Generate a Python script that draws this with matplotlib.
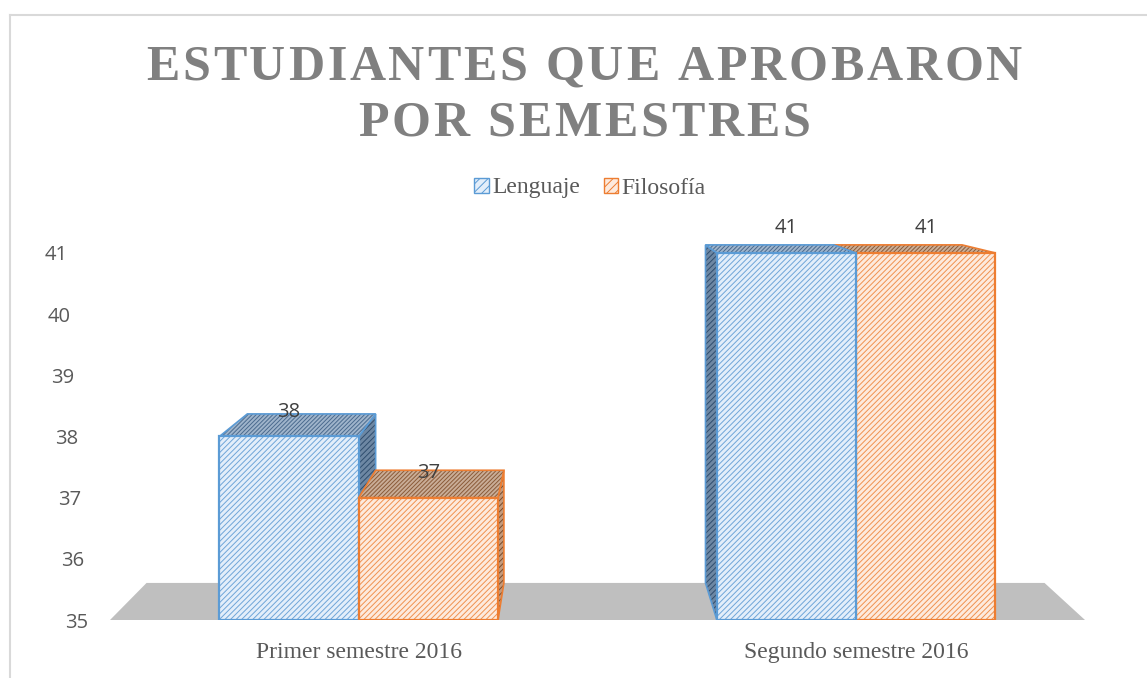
import matplotlib
matplotlib.use("Agg")
import matplotlib.pyplot as plt
from matplotlib.patches import Polygon, Rectangle
from matplotlib.lines import Line2D
from matplotlib.transforms import ScaledTranslation
from matplotlib.font_manager import FontProperties, findfont
from matplotlib.ft2font import FT2Font

# datos
categories = ["Primer semestre 2016", "Segundo semestre 2016"]
series_names = ["Lenguaje", "Filosofía"]
lenguaje = [38, 41]
filosofia = [37, 41]
y_ticks = [35, 36, 37, 38, 39, 40, 41]
title_lines = ["ESTUDIANTES QUE APROBARON", "POR SEMESTRES"]

plt.rcParams['hatch.linewidth'] = 0.7

W, H, DPI = 1147, 678, 100
fig = plt.figure(figsize=(W / DPI, H / DPI), dpi=DPI)
ax = fig.add_axes([110 / W, 1 - 620 / H, 975 / W, (620 - 130.6) / H])
ax.set_xlim(-0.5, 1.46)
ax.set_ylim(35, 43)
for s in ax.spines.values():
    s.set_visible(False)

# perspectiva simple: punto de fuga y escala de la cara trasera
vp = (0.43, 42.67)
sc = 0.921


def back(x, y):
    return (vp[0] + sc * (x - vp[0]), vp[1] + sc * (y - vp[1]))


# suelo gris
x0, x1 = ax.get_xlim()
floor = [(x0, 35), (x1, 35), back(x1, 35), back(x0, 35)]
ax.add_patch(Polygon(floor, closed=True, facecolor="#bfbfbf", edgecolor="none", zorder=1))

styles = {
    "Lenguaje": {"face": "#e3eefa", "hatch": "#6fa5d8", "edge": "#5b9bd5",
                 "top": "#9fb4cb", "tophatch": "#4a6a8e", "side": "#6d87a3", "sidehatch": "#2f4d6e"},
    "Filosofía": {"face": "#fdeadd", "hatch": "#f0914f", "edge": "#ed7d31",
                  "top": "#c9ad97", "tophatch": "#8a5a38", "side": "#c49a7c", "sidehatch": "#7a4a28"},
}

width = 0.28
bars = []
for i in range(len(categories)):
    bars.append((i - width, width, lenguaje[i], "Lenguaje"))
    bars.append((i, width, filosofia[i], "Filosofía"))

# pintar de atrás hacia delante (más lejos del punto de fuga primero)
bars.sort(key=lambda b: -abs(b[0] + b[1] / 2 - vp[0]))

z = 2
for left, w, h, name in bars:
    st = styles[name]
    right = left + w
    # cara lateral visible (la que mira al punto de fuga)
    sx = right if right < vp[0] else left
    side = [(sx, 35), (sx, h), back(sx, h), back(sx, 35)]
    ax.add_patch(Polygon(side, closed=True, facecolor=st["side"], edgecolor=st["sidehatch"],
                         hatch="//////", linewidth=0, zorder=z))
    ax.add_patch(Polygon(side, closed=True, fill=False, edgecolor=st["edge"], linewidth=1.2, zorder=z))
    # cara superior
    top = [(left, h), (right, h), back(right, h), back(left, h)]
    ax.add_patch(Polygon(top, closed=True, facecolor=st["top"], edgecolor=st["tophatch"],
                         hatch="////////", linewidth=0, zorder=z))
    ax.add_patch(Polygon(top, closed=True, fill=False, edgecolor=st["edge"], linewidth=1.2, zorder=z))
    # cara frontal
    ax.add_patch(Rectangle((left, 35), w, h - 35, facecolor=st["face"], edgecolor=st["hatch"],
                           hatch="//////", linewidth=0, zorder=z + 1))
    ax.add_patch(Rectangle((left, 35), w, h - 35, fill=False, edgecolor=st["edge"], linewidth=1.6, zorder=z + 1))
    # etiqueta de valor
    ax.text(left + w / 2, h + 0.4, str(h), ha="center", va="center",
            fontsize=14.5, color="#404040", family="Open Sans", zorder=10)
    z += 2

# ejes
ax.set_yticks(y_ticks)
ax.set_yticklabels([str(t) for t in y_ticks], family="Open Sans", fontsize=14.5, color="#595959")
ax.tick_params(axis="y", length=0, pad=16)
for lab, t in zip(ax.get_yticklabels(), y_ticks):
    dx = -(t - 35) / 6 * 20 / 100
    lab.set_transform(lab.get_transform() + ScaledTranslation(dx, 0, fig.dpi_scale_trans))

ax.set_xticks(range(len(categories)))
ax.set_xticklabels(categories, family="Liberation Serif", fontsize=17, color="#595959")
ax.tick_params(axis="x", length=0, pad=16)

# título con espaciado entre letras (cada letra colocada a mano)
title_size = 36
tracking = 2.8  # px extra entre letras
title_prop = FontProperties(family="Liberation Serif", weight="bold", size=title_size)
ft = FT2Font(findfont(title_prop))
ft.set_size(title_size, DPI)
baselines = [80, 136]
cx = 584
for line, base in zip(title_lines, baselines):
    adv = [ft.load_char(ord(c)).linearHoriAdvance / 65536 for c in line]
    total = sum(adv) + tracking * (len(line) - 1)
    xpos = cx - total / 2
    for c, a in zip(line, adv):
        fig.text(xpos / W, 1 - base / H, c, ha="left", va="baseline", fontproperties=title_prop,
                 color="#808080")
        xpos += a + tracking

# leyenda
handles = [Rectangle((0, 0), 1, 1, facecolor=styles[n]["face"], edgecolor=styles[n]["edge"], hatch="////",
                     linewidth=1) for n in series_names]
leg = fig.legend(handles, series_names, loc="center", bbox_to_anchor=(590 / W, 1 - 188 / H), ncol=2,
                 frameon=False, handlelength=0.6, handleheight=0.6, handletextpad=0.15, columnspacing=1.0,
                 prop={"family": "Liberation Serif", "size": 17})
for t in leg.get_texts():
    t.set_color("#595959")

# marco del gráfico
fig.add_artist(Line2D([10 / W, 10 / W], [0, 1 - 15 / H], color="#d9d9d9", linewidth=1.5))
fig.add_artist(Line2D([10 / W, 1], [1 - 15 / H, 1 - 15 / H], color="#d9d9d9", linewidth=1.5))

fig.savefig("out.png", dpi=DPI)
